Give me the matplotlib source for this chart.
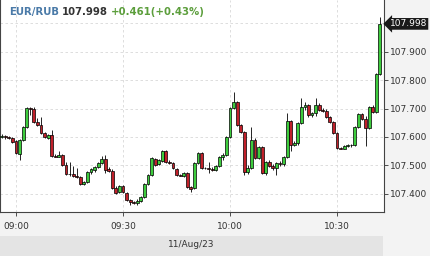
import matplotlib
matplotlib.use("Agg")
import matplotlib.pyplot as plt
import matplotlib.dates as mdates
import pandas as pd
from matplotlib.patches import Rectangle

# EUR/RUB 1-minute candles, 11 Aug 2023
times = pd.date_range("2023-08-11 08:56", periods=107, freq="1min")

opens = [107.600, 107.603, 107.600, 107.596, 107.586, 107.540, 107.589, 107.635, 107.702, 107.698,
         107.652, 107.642, 107.614, 107.598, 107.607, 107.533, 107.531, 107.536, 107.501, 107.469,
         107.468, 107.462, 107.459, 107.434, 107.441, 107.476, 107.483, 107.494, 107.508, 107.522,
         107.487, 107.480, 107.420, 107.406, 107.427, 107.403, 107.378, 107.371, 107.369, 107.374,
         107.388, 107.434, 107.466, 107.522, 107.505, 107.515, 107.550, 107.512, 107.508, 107.487,
         107.466, 107.462, 107.473, 107.424, 107.420, 107.508, 107.543, 107.491, 107.489, 107.487,
         107.483, 107.498, 107.529, 107.536, 107.600, 107.702, 107.723, 107.642, 107.617, 107.476,
         107.491, 107.589, 107.526, 107.564, 107.473, 107.512, 107.498, 107.491, 107.508, 107.505,
         107.529, 107.656, 107.571, 107.579, 107.649, 107.705, 107.712, 107.677, 107.684, 107.712,
         107.695, 107.691, 107.670, 107.652, 107.614, 107.561, 107.559, 107.568, 107.570, 107.571,
         107.635, 107.681, 107.663, 107.631, 107.705, 107.688, 107.821]
highs = [107.610, 107.607, 107.603, 107.600, 107.589, 107.593, 107.638, 107.705, 107.705, 107.705,
         107.667, 107.670, 107.617, 107.610, 107.624, 107.540, 107.550, 107.540, 107.512, 107.512,
         107.498, 107.491, 107.462, 107.445, 107.480, 107.491, 107.498, 107.512, 107.533, 107.536,
         107.494, 107.487, 107.427, 107.431, 107.431, 107.406, 107.380, 107.374, 107.381, 107.392,
         107.438, 107.469, 107.529, 107.526, 107.522, 107.554, 107.554, 107.519, 107.512, 107.491,
         107.469, 107.476, 107.476, 107.427, 107.512, 107.547, 107.547, 107.494, 107.512, 107.494,
         107.501, 107.533, 107.543, 107.603, 107.705, 107.758, 107.726, 107.645, 107.621, 107.501,
         107.635, 107.596, 107.568, 107.568, 107.515, 107.519, 107.505, 107.512, 107.515, 107.533,
         107.684, 107.659, 107.586, 107.652, 107.737, 107.723, 107.716, 107.688, 107.737, 107.719,
         107.702, 107.698, 107.674, 107.656, 107.617, 107.564, 107.571, 107.575, 107.575, 107.638,
         107.684, 107.684, 107.674, 107.709, 107.712, 107.825, 108.022]
lows = [107.596, 107.593, 107.593, 107.579, 107.540, 107.519, 107.586, 107.631, 107.677, 107.649,
        107.638, 107.610, 107.596, 107.593, 107.529, 107.529, 107.529, 107.498, 107.466, 107.462,
        107.459, 107.455, 107.431, 107.431, 107.438, 107.469, 107.476, 107.491, 107.505, 107.473,
        107.476, 107.417, 107.399, 107.403, 107.403, 107.374, 107.360, 107.364, 107.360, 107.371,
        107.385, 107.431, 107.462, 107.498, 107.501, 107.512, 107.508, 107.505, 107.487, 107.462,
        107.462, 107.459, 107.420, 107.406, 107.417, 107.505, 107.487, 107.487, 107.473, 107.480,
        107.480, 107.494, 107.519, 107.533, 107.596, 107.698, 107.638, 107.614, 107.466, 107.469,
        107.487, 107.522, 107.522, 107.469, 107.466, 107.494, 107.483, 107.466, 107.498, 107.498,
        107.526, 107.550, 107.568, 107.571, 107.645, 107.695, 107.670, 107.670, 107.674, 107.691,
        107.688, 107.667, 107.649, 107.610, 107.557, 107.557, 107.557, 107.564, 107.564, 107.568,
        107.631, 107.659, 107.568, 107.628, 107.684, 107.684, 107.818]
closes = [107.603, 107.600, 107.598, 107.582, 107.543, 107.589, 107.635, 107.702, 107.698, 107.652,
          107.642, 107.614, 107.600, 107.607, 107.533, 107.531, 107.536, 107.501, 107.469, 107.468,
          107.462, 107.459, 107.434, 107.441, 107.476, 107.487, 107.494, 107.508, 107.522, 107.483,
          107.480, 107.420, 107.403, 107.427, 107.406, 107.378, 107.371, 107.367, 107.374, 107.388,
          107.434, 107.466, 107.526, 107.501, 107.519, 107.550, 107.512, 107.508, 107.491, 107.466,
          107.464, 107.473, 107.424, 107.417, 107.508, 107.543, 107.491, 107.489, 107.487, 107.483,
          107.498, 107.529, 107.536, 107.600, 107.702, 107.723, 107.642, 107.617, 107.476, 107.491,
          107.589, 107.526, 107.564, 107.473, 107.512, 107.498, 107.491, 107.508, 107.505, 107.529,
          107.656, 107.571, 107.579, 107.649, 107.705, 107.712, 107.677, 107.684, 107.712, 107.695,
          107.691, 107.670, 107.652, 107.614, 107.561, 107.559, 107.568, 107.570, 107.571, 107.635,
          107.681, 107.663, 107.631, 107.705, 107.688, 107.821, 107.998]

y_ticks = [107.4, 107.5, 107.6, 107.7, 107.8, 107.9, 108.0]
last_price = "107.998"
change = "+0.461(+0.43%)"
date_label = "11/Aug/23"

UP = "#3dcc3d"
DOWN = "#c0202a"
GRID = "#d8d8d8"
PANEL = "#f3f3f3"

fig = plt.figure(figsize=(4.3, 2.56), dpi=100, facecolor=PANEL)
ax = fig.add_axes([0.0, 0.172, 0.893, 0.828])
ax.set_facecolor("white")

# date band at bottom
fig.patches.append(Rectangle((0, 0), 0.891, 0.078, transform=fig.transFigure,
                             facecolor="#e4e4e4", edgecolor="none", zorder=0))

x = mdates.date2num(times)
w = 0.8 / 1440
for xi, o, h, l, c in zip(x, opens, highs, lows, closes):
    ax.vlines(xi, l, h, color="black", lw=0.6, zorder=2)
    col = UP if c >= o else DOWN
    ax.add_patch(Rectangle((xi - w / 2, min(o, c)), w, max(abs(c - o), 0.0015),
                           facecolor=col, edgecolor="black", lw=0.5, zorder=3))

ax.set_xlim(mdates.date2num(pd.Timestamp("2023-08-11 08:55:30")),
            mdates.date2num(pd.Timestamp("2023-08-11 10:43:10")))
ax.set_ylim(107.336, 108.082)

ax.yaxis.tick_right()
ax.set_yticks(y_ticks)
ax.set_yticklabels([f"{v:.3f}" for v in y_ticks[:-1]] + [""])
ax.xaxis.set_major_locator(mdates.MinuteLocator(byminute=[0, 30]))
ax.xaxis.set_major_formatter(mdates.DateFormatter("%H:%M"))
ax.tick_params(axis="both", labelsize=6.5, colors="#333333", length=3, width=0.6,
               labelcolor="#333333")
ax.tick_params(axis="y", pad=1.5)
ax.tick_params(axis="x", pad=4)
ax.grid(True, color=GRID, lw=0.6, ls=(0, (3, 3)))
ax.set_axisbelow(True)

ax.spines["top"].set_visible(False)
for side in ["left", "right", "bottom"]:
    ax.spines[side].set_color("#444444")
    ax.spines[side].set_linewidth(0.8)

# current price marker
ax.annotate(last_price, xy=(1.0, closes[-1]), xycoords=("axes fraction", "data"),
            xytext=(4, 0), textcoords="offset points", ha="left", va="center",
            fontsize=6.5, color="white",
            bbox=dict(boxstyle="larrow,pad=0.15", fc="#1a1a1a", ec="none"))

fig.text(0.445, 0.043, date_label, ha="center", va="center", fontsize=6.5, color="#333333")

# title
fig.canvas.draw()
r = fig.canvas.get_renderer()
t1 = fig.text(9 / 430, 1 - 12 / 256, "EUR/RUB", fontsize=7.3, fontweight="bold",
              color="#4a7aa8", va="center")
x0 = t1.get_window_extent(r).x1 + 3
t2 = fig.text(x0 / 430, 1 - 12 / 256, last_price, fontsize=7.3, fontweight="bold",
              color="#333333", va="center")
x0 = t2.get_window_extent(r).x1 + 3
fig.text(x0 / 430, 1 - 12 / 256, change, fontsize=7.3, fontweight="bold",
         color="#5c9e3c", va="center")

fig.savefig("out.png", dpi=100, facecolor=fig.get_facecolor())
